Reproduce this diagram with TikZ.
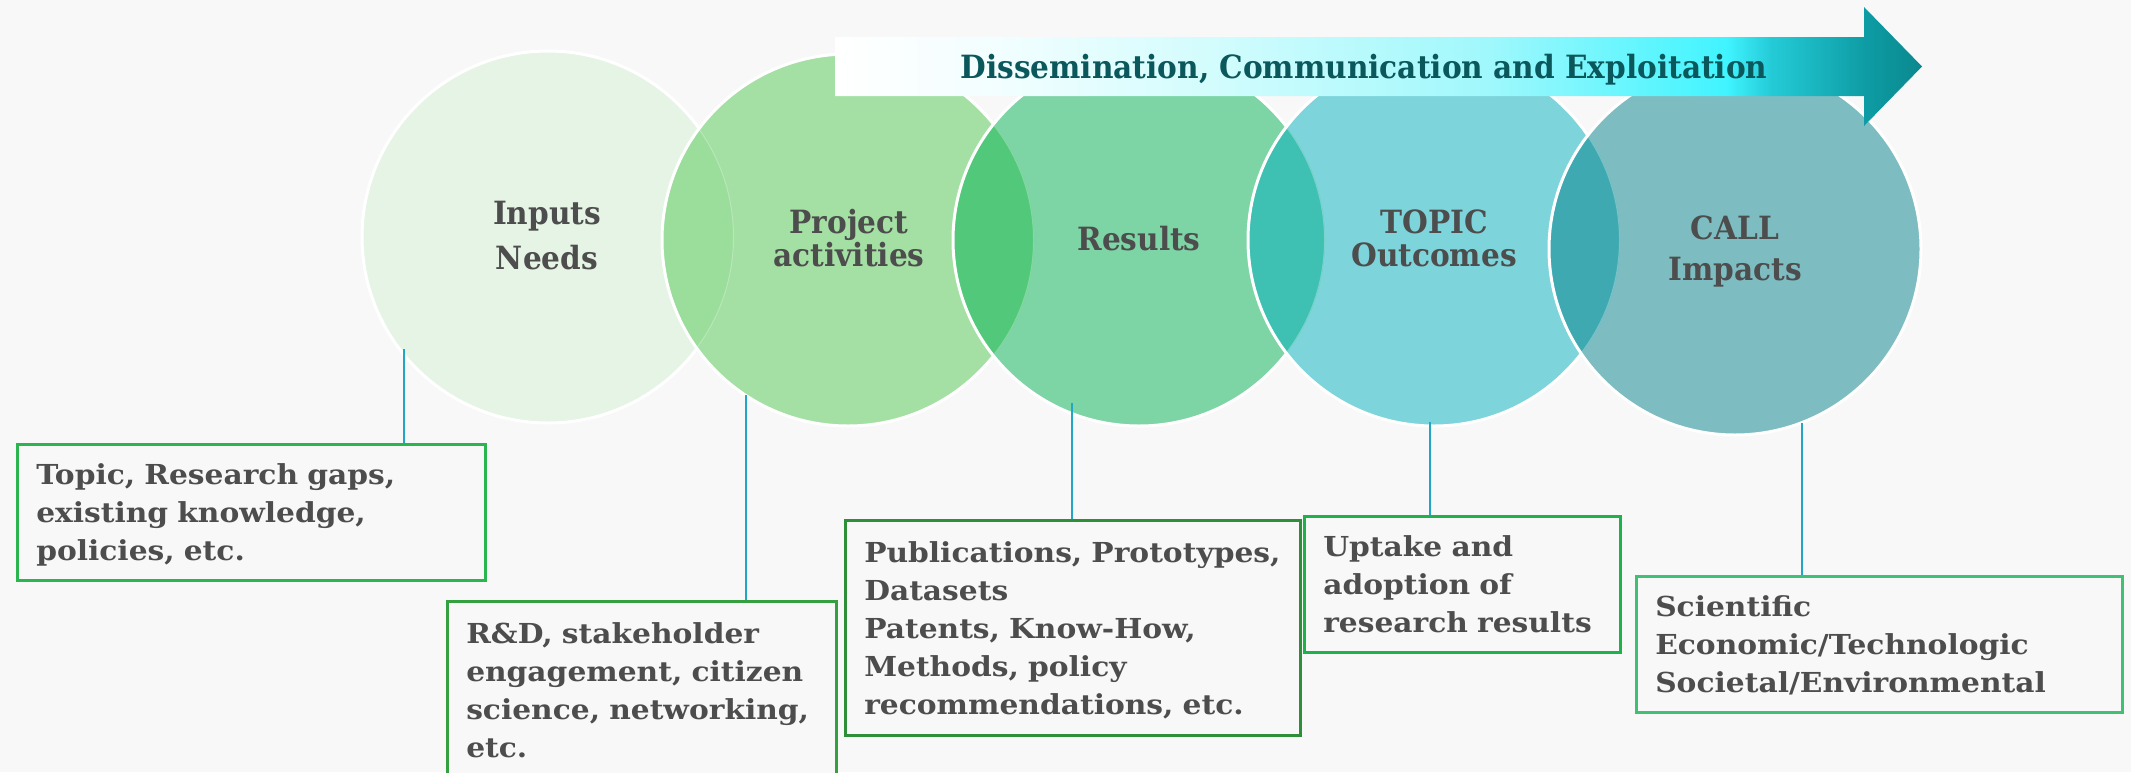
\documentclass[tikz,border=0pt]{standalone}
\usepackage{fontspec}
\setmainfont{DejaVu Serif}
\newfontfamily\lblfont{DejaVu Serif}[FakeStretch=0.925]
\newfontfamily\boxfont{DejaVu Serif}[FakeStretch=1.08]

\definecolor{bgGray}{HTML}{F8F8F8}
\definecolor{txtGray}{HTML}{4D4D4D}
\definecolor{bannerTxt}{HTML}{0B585C}
\definecolor{linkCyan}{HTML}{22A6C6}
\definecolor{inFill}{HTML}{E6F4E6}
\definecolor{actFill}{HTML}{A4E0A4}
\definecolor{resFill}{HTML}{7DD4A5}
\definecolor{outFill}{HTML}{7DD4DA}
\definecolor{impFill}{HTML}{7DBDC2}
\definecolor{ovAB}{HTML}{9BDD9B}
\definecolor{ovBC}{HTML}{52C87A}
\definecolor{ovCD}{HTML}{3EC0B2}
\definecolor{ovDE}{HTML}{3FA9B2}
\definecolor{bnA}{HTML}{F2FEFF}
\definecolor{bnB}{HTML}{D2FCFD}
\definecolor{bnC}{HTML}{A0F8FC}
\definecolor{bnD}{HTML}{40F4FF}
\definecolor{bnE}{HTML}{24CCD8}
\definecolor{bnF}{HTML}{0E9CA4}
\definecolor{bnG}{HTML}{0A888E}
\definecolor{edgeA}{HTML}{2AB54F}
\definecolor{edgeB}{HTML}{35A040}
\definecolor{edgeC}{HTML}{2E8F38}
\definecolor{edgeD}{HTML}{1EB24C}
\definecolor{edgeE}{HTML}{40C075}

\pgfdeclarehorizontalshading{bannershade}{100bp}{color(0bp)=(white); color(25bp)=(white);
  color(32.5bp)=(bnA); color(42.5bp)=(bnB); color(55bp)=(bnC); color(66bp)=(bnD);
  color(68bp)=(bnE); color(72.4bp)=(bnF); color(75bp)=(bnG); color(100bp)=(bnG)}

\begin{document}
\begin{tikzpicture}[x=1pt,y=-1pt,
  lbl/.style={font=\fontsize{32}{33}\lblfont\bfseries, text=txtGray, align=center, inner sep=0pt, anchor=base},
  infobox/.style={draw, line width=2.5pt, fill=bgGray, anchor=north west, inner xsep=19pt, inner ysep=0pt,
    align=left, font=\fontsize{27.5}{38}\boxfont\bfseries, text=txtGray},
  link/.style={draw=linkCyan, line width=1.5pt},
  rim/.style={draw=white, line width=3pt}]
\useasboundingbox[fill=bgGray] (0,0) rectangle (2131,772);

% circles
\fill[inFill] (548,237) circle[radius=186];
\draw[rim] (548,237) circle[radius=186];

\fill[actFill] (848,240) circle[radius=186];
\begin{scope}
\clip (548,237) circle[radius=186];
\fill[ovAB] (848,240) circle[radius=186];
\draw[white, opacity=.3, line width=2pt] (548,237) circle[radius=186];
\end{scope}
\draw[rim] (848,240) circle[radius=186];

\fill[resFill] (1139,240) circle[radius=186];
\begin{scope}
\clip (848,240) circle[radius=186];
\fill[ovBC] (1139,240) circle[radius=186];
\draw[white, opacity=.3, line width=2pt] (848,240) circle[radius=186];
\end{scope}
\draw[rim] (1139,240) circle[radius=186];

\fill[outFill] (1434,240) circle[radius=186];
\begin{scope}
\clip (1139,240) circle[radius=186];
\fill[ovCD] (1434,240) circle[radius=186];
\draw[white, opacity=.3, line width=2pt] (1139,240) circle[radius=186];
\end{scope}
\draw[rim] (1434,240) circle[radius=186];

\fill[impFill] (1735,249) circle[radius=186];
\begin{scope}
\clip (1434,240) circle[radius=186];
\fill[ovDE] (1735,249) circle[radius=186];
\draw[white, opacity=.3, line width=2pt] (1434,240) circle[radius=186];
\end{scope}
\draw[rim] (1735,249) circle[radius=186];

% banner arrow
\shade[shading=bannershade] (835,37) -- (1864,37) -- (1864,7) -- (1922,66.5) -- (1864,126) -- (1864,96) -- (835,96) -- cycle;
\node(Dce)[font=\fontsize{32}{34}\lblfont\bfseries, text=bannerTxt, inner sep=0pt, anchor=base] at (1364,78)
  {Dissemination, Communication and Exploitation};

% circle labels (base = last line)
\node(Inp)[lbl, font=\fontsize{32}{45}\lblfont\bfseries] at (547,269) {Inputs\\Needs};
\node(Act)[lbl] at (849,266) {Project\\activities};
\node(Res)[lbl] at (1139,250) {Results};
\node(Top)[lbl] at (1434,266) {TOPIC\\Outcomes};
\node(Cal)[lbl, font=\fontsize{32}{41}\lblfont\bfseries] at (1735,280) {CALL\\Impacts};

% boxes
\node(NeedsBox)[infobox, draw=edgeA, minimum width=468, minimum height=136, text width=430, text depth=76pt] at (16,443)
  {Topic, Research gaps,\\existing knowledge,\\policies, etc.};
\node(ActBox)[infobox, draw=edgeB, minimum width=389, minimum height=177, text width=351, text depth=114pt] at (446,600)
  {R\&D, stakeholder\\engagement, citizen\\science, networking,\\etc.};
\node(ResBox)[infobox, draw=edgeC, minimum width=455, minimum height=215, text width=417, text depth=152pt] at (844,519)
  {Publications, Prototypes,\\Datasets\\Patents, Know-How,\\Methods, policy\\recommendations, etc.};
\node(OutBox)[infobox, draw=edgeD, minimum width=316, minimum height=136, text width=278, text depth=76pt] at (1303,515)
  {Uptake and\\adoption of\\research results};
\node(ImpBox)[infobox, draw=edgeE, minimum width=486, minimum height=136, text width=448, text depth=76pt] at (1635,575)
  {Scientific\\Economic/Technologic\\Societal/Environmental};

% connectors
\coordinate(InpT) at (404,349);
\coordinate(ActT) at (746,395);
\coordinate(ResT) at (1072,403);
\coordinate(TopT) at (1430,422);
\coordinate(CalT) at (1802,423);
\draw[link] (InpT) -- (InpT |- NeedsBox.north);
\draw[link] (ActT) -- (ActT |- ActBox.north);
\draw[link] (ResT) -- (ResT |- ResBox.north);
\draw[link] (TopT) -- (TopT |- OutBox.north);
\draw[link] (CalT) -- (CalT |- ImpBox.north);
\end{tikzpicture}
\end{document}
